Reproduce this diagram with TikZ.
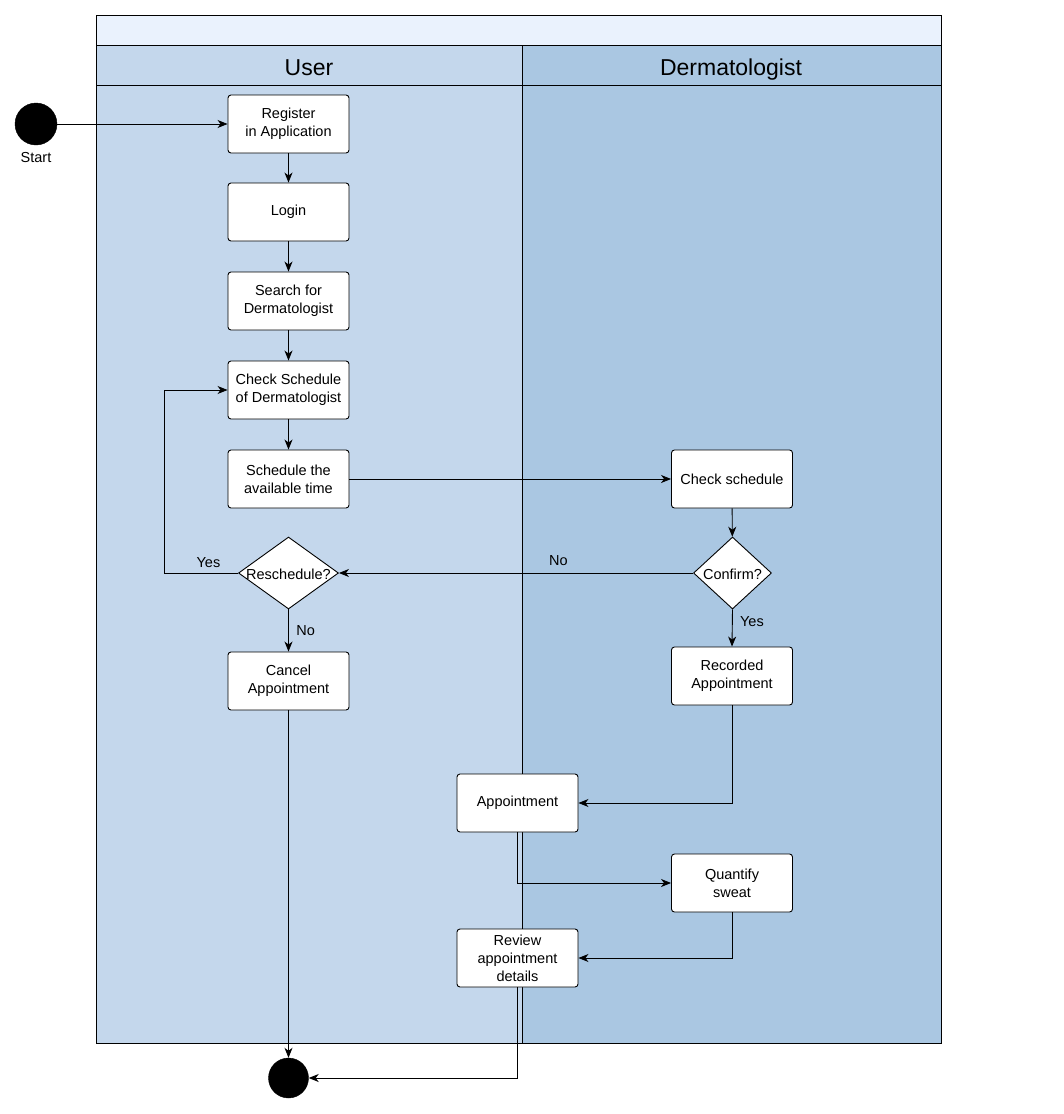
\documentclass[tikz,border=0pt]{standalone}
\usepackage{fontspec}
\setmainfont{Liberation Sans}
\usetikzlibrary{arrows.meta,shapes.geometric}
\definecolor{titlebg}{HTML}{EAF2FD}
\definecolor{userbg}{HTML}{C4D7EC}
\definecolor{dermbg}{HTML}{AAC7E2}
\tikzset{
  act/.style={draw=black, fill=white, rounded corners=3pt, minimum width=121pt, minimum height=58pt, align=center, font=\fontsize{14.5}{18}\selectfont, line width=0.9pt, inner sep=1pt},
  dec/.style={draw=black, fill=white, diamond, line width=0.9pt, inner sep=0pt},
  dectext/.style={font=\fontsize{14.5}{18}\selectfont, inner sep=0pt},
  term/.style={circle, fill=black, draw=black},
  flow/.style={draw=black, line width=0.9pt, -{Stealth[length=10pt,width=8pt,inset=3pt]}},
  lbl/.style={font=\fontsize{14.5}{18}\selectfont},
  lane/.style={draw=black, line width=0.9pt},
  head/.style={font=\fontsize{23}{28}\selectfont, anchor=base}
}
\begin{document}
\begin{tikzpicture}[x=1pt,y=-1pt]
\useasboundingbox (0,0) rectangle (1064,1114);
% pool
\fill[titlebg] (96,15) rectangle (941,45);
\fill[userbg] (96,45) rectangle (522,1043);
\fill[dermbg] (522,45) rectangle (941,1043);
\draw[lane] (96,15) rectangle (941,1043);
\draw[lane] (96,45) -- (941,45);
\draw[lane] (96,85) -- (941,85);
\draw[lane] (522,45) -- (522,1043);
\node[head] (userh) at (309,75) {User};
\node[head] (dermh) at (731,75) {Dermatologist};

% nodes
\node[term, minimum size=42pt] (start) at (36,124) {};
\node[lbl] (startl) at (36,158) {Start};
\node[act] (reg) at (288.5,124) {Register\\in Application};
\node[act] (login) at (288.5,212) {Login};
\node[act] (search) at (288.5,301) {Search for\\Dermatologist};
\node[act] (chk) at (288.5,390) {Check Schedule\\of Dermatologist};
\node[act] (sched) at (288.5,479) {Schedule the\\available time};
\node[dec, minimum width=100pt, minimum height=72pt] (resch) at (288.5,573) {};
\node[dectext] (reschl) at (288.5,574) {Reschedule?};
\node[act] (cancel) at (288.5,681) {Cancel\\Appointment};
\node[term, minimum size=40pt] (end) at (288.5,1078) {};

\node[act] (chks) at (732,479) {Check schedule};
\node[dec, minimum width=78pt, minimum height=72pt] (conf) at (732.5,573) {};
\node[dectext] (confl) at (732.5,574) {Confirm?};
\node[act] (rec) at (732,676) {Recorded\\Appointment};
\node[act] (appt) at (517.5,803) {Appointment};
\node[act] (quant) at (732,883) {Quantify\\sweat};
\node[act] (review) at (517.5,958) {Review\\appointment\\details};

% edges
\draw[flow] (start) -- (reg);
\draw[flow] (reg) -- (login);
\draw[flow] (login) -- (search);
\draw[flow] (search) -- (chk);
\draw[flow] (chk) -- (sched);
\draw[flow] (sched) -- (chks);
\draw[flow] (chks) -- (conf);
\draw[flow] (conf.west) -- node[lbl, pos=0.38, above=4pt] {No} (resch.east);
\draw[flow] (conf.south) -- node[lbl, pos=0.33, right=4pt] {Yes} (rec.north);
\draw[flow] (resch.west) -- node[lbl, pos=0.4, above=1.5pt] {Yes} (164,573) |- (chk.west);
\draw[flow] (resch.south) -- node[lbl, pos=0.5, right=4pt] {No} (cancel.north);
\draw[flow] (cancel.south) -- (end.north);
\draw[flow] (rec.south) |- (appt.east);
\draw[flow] (appt.south) |- (quant.west);
\draw[flow] (quant.south) |- (review.east);
\draw[flow] (review.south) |- (end.east);
\end{tikzpicture}
\end{document}
